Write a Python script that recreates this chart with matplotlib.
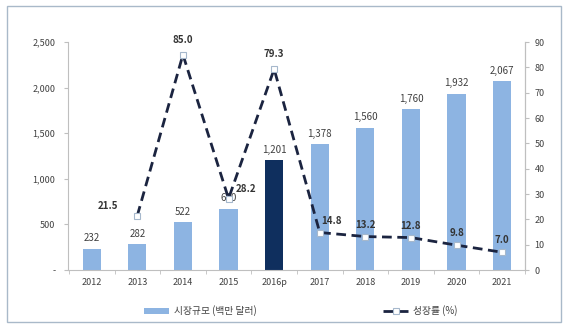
import numpy as np
import matplotlib.pyplot as plt
from matplotlib.patches import Rectangle
from matplotlib.lines import Line2D
from matplotlib.patches import Patch

plt.rcParams['font.family'] = ['Noto Sans CJK KR', 'DejaVu Sans']

years = ["2012", "2013", "2014", "2015", "2016p", "2017", "2018", "2019", "2020", "2021"]
market = [232, 282, 522, 670, 1201, 1378, 1560, 1760, 1932, 2067]
growth_years = ["2013", "2014", "2015", "2016p", "2017", "2018", "2019", "2020", "2021"]
growth = [21.5, 85.0, 28.2, 79.3, 14.8, 13.2, 12.8, 9.8, 7.0]
left_ticks = [0, 500, 1000, 1500, 2000, 2500]
left_labels = ["-", "500", "1,000", "1,500", "2,000", "2,500"]
right_ticks = list(range(0, 100, 10))

bar_light = "#8DB4E2"
bar_dark = "#0F2F5E"
line_col = "#1B2440"
axis_col = "#BFBFBF"
text_col = "#404040"
dash = (0, (3.5, 2))

fig = plt.figure(figsize=(5.68, 3.34), dpi=100)
fig.patches.append(Rectangle((7 / 568, 1 - 322 / 334), 554 / 568, 316 / 334,
                             transform=fig.transFigure, fill=False,
                             edgecolor="#A9B9C9", linewidth=1.0))

ax = fig.add_axes([68 / 568, 1 - 270 / 334, (525 - 68) / 568, (270 - 42) / 334])
x = np.arange(len(years))
colors = [bar_dark if y == "2016p" else bar_light for y in years]
ax.bar(x, market, width=0.4, color=colors, zorder=2)
for xi, v in zip(x, market):
    ax.text(xi, v + 60, f"{v:,}", ha="center", va="bottom", fontsize=7, color=text_col)

ax.set_xlim(-0.52, len(years) - 0.5)
ax.set_ylim(0, 2500)
ax.set_yticks(left_ticks)
ax.set_yticklabels(left_labels)
ax.set_xticks(x)
ax.set_xticklabels(years)
ax.set_xticks(np.arange(-0.5, len(years), 1), minor=True)
ax.tick_params(axis="x", which="major", length=0, pad=6, labelsize=6.5, labelcolor=text_col)
ax.tick_params(axis="x", which="minor", length=3, color=axis_col, direction="out")
ax.tick_params(axis="y", length=3, color=axis_col, labelsize=6.5, labelcolor=text_col, pad=6)
ax.spines["top"].set_visible(False)
for s in ["left", "bottom", "right"]:
    ax.spines[s].set_color(axis_col)

ax2 = ax.twinx()
gx = [years.index(y) for y in growth_years]
ax2.plot(gx, growth, color=line_col, linestyle=dash, linewidth=2,
         marker="s", markersize=5, markerfacecolor="white", markeredgecolor="#A6B8CC",
         markeredgewidth=0.8, zorder=3)
ax2.set_ylim(0, 90)
ax2.set_yticks(right_ticks)
ax2.tick_params(axis="y", length=3, color=axis_col, labelsize=6.5, labelcolor=text_col, pad=4)
for s in ["top", "left", "bottom"]:
    ax2.spines[s].set_visible(False)
ax2.spines["right"].set_color(axis_col)

offsets = {
    "2013": (-14, 3, "right"),
    "2014": (0, 7, "center"),
    "2015": (5, 3, "left"),
    "2016p": (0, 7, "center"),
    "2017": (1, 5, "left"),
    "2018": (0, 5, "center"),
    "2019": (0, 5, "center"),
    "2020": (0, 5, "center"),
    "2021": (0, 5, "center"),
}
for xi, yv, yr in zip(gx, growth, growth_years):
    dx, dy, ha = offsets[yr]
    ax2.annotate(f"{yv:.1f}", (xi, yv), xytext=(dx, dy), textcoords="offset points",
                 ha=ha, va="bottom", fontsize=7, fontweight="bold", color="#333333")

handles = [Patch(facecolor=bar_light, edgecolor="none"),
           Line2D([0], [0], color=line_col, linestyle=dash, linewidth=2,
                  marker="s", markersize=5, markerfacecolor="white",
                  markeredgecolor="#A6B8CC", markeredgewidth=0.8)]
fig.legend(handles, ["시장규모 (백만 달러)", "성장률 (%)"], loc="center",
           bbox_to_anchor=(0.53, 1 - 311 / 334), ncol=2, frameon=False,
           fontsize=7, columnspacing=13, handlelength=2.6, handleheight=0.5,
           handletextpad=0.5, labelcolor=text_col)

fig.savefig("out.png", dpi=100)
